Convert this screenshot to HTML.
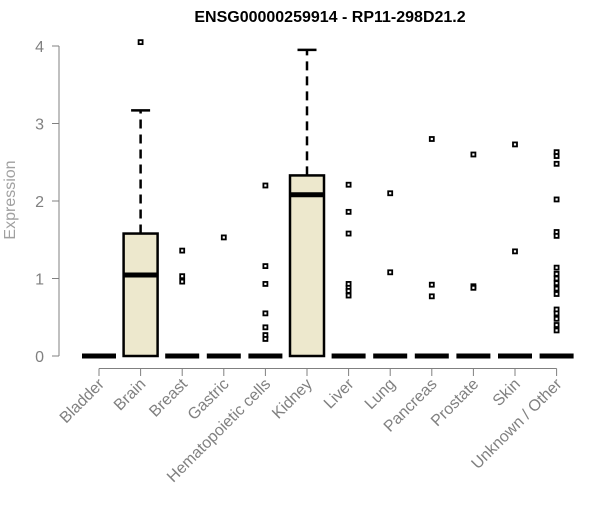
<!DOCTYPE html>
<html><head><meta charset="utf-8"><style>
body{margin:0;background:#fff}
svg{font-family:"Liberation Sans",sans-serif}
</style></head><body>
<svg id="c" width="600" height="500" xmlns="http://www.w3.org/2000/svg">
<text x="330" y="22" text-anchor="middle" font-weight="bold" font-size="16">ENSG00000259914 - RP11-298D21.2</text>
<text transform="translate(15,200) rotate(-90)" text-anchor="middle" font-size="16" fill="#a0a0a0">Expression</text>
<g id="g"></g>
</svg>
<script>
const categories=["Bladder","Brain","Breast","Gastric","Hematopoietic cells","Kidney","Liver","Lung","Pancreas","Prostate","Skin","Unknown / Other"];
const q1=[0,0,0,0,0,0,0,0,0,0,0,0];
const medians=[0,1.045,0,0,0,2.08,0,0,0,0,0,0];
const q3=[0,1.58,0,0,0,2.33,0,0,0,0,0,0];
const whiskHi=[0,3.17,0,0,0,3.95,0,0,0,0,0,0];
const outliers=[[],[4.05],[1.36,1.03,0.96],[1.53],[2.2,1.16,0.93,0.55,0.37,0.27,0.22],[],[2.21,1.86,1.58,0.93,0.88,0.84,0.78],[2.1,1.08],[2.8,0.92,0.77],[2.6,0.9,0.88],[2.73,1.35],[2.63,2.58,2.48,2.02,1.6,1.55,1.14,1.06,1.0,0.94,0.87,0.8,0.6,0.55,0.48,0.4,0.33]];
const yTicks=[0,1,2,3,4];
const NS="http://www.w3.org/2000/svg",g=document.getElementById('g');
const X=i=>99+41.6*i, Y=v=>356-77.5*v;
function mk(t,a){const e=document.createElementNS(NS,t);for(const k in a)e.setAttribute(k,a[k]);g.appendChild(e);return e;}
let e=mk('line',{x1:59,x2:59,y1:Y(0),y2:Y(4),stroke:'#808080'});

yTicks.forEach(v=>{let t=mk('line',{x1:52,x2:59,y1:Y(v),y2:Y(v),stroke:'#808080'});

let l=mk('text',{x:44,y:Y(v)+6,'text-anchor':'end','font-size':16,fill:'#808080'});l.textContent=v;
});
e=mk('line',{x1:X(0),x2:X(11),y1:368.5,y2:368.5,stroke:'#808080'});

categories.forEach((c,i)=>{const x=X(i),w=17;
let t=mk('line',{x1:x,x2:x,y1:368.5,y2:376,stroke:'#808080'});

let l=mk('text',{transform:`translate(${x+6},${385}) rotate(-45)`,'text-anchor':'end','font-size':16,fill:'#808080'});l.textContent=c;

if(whiskHi[i]>q3[i]){
let wl=mk('line',{x1:x,x2:x,y1:Y(q3[i]),y2:Y(whiskHi[i]),stroke:'#000','stroke-width':2.5,'stroke-dasharray':'9,6'});

let cap=mk('line',{x1:x-w/2-1,x2:x+w/2+1,y1:Y(whiskHi[i]),y2:Y(whiskHi[i]),stroke:'#000','stroke-width':2.5});
}
if(q3[i]>q1[i]){
let b=mk('rect',{x:x-w,y:Y(q3[i]),width:2*w,height:Y(q1[i])-Y(q3[i]),fill:'#ede8cd',stroke:'#000','stroke-width':2.5});
}
let m=mk('line',{x1:x-w,x2:x+w,y1:Y(medians[i]),y2:Y(medians[i]),stroke:'#000','stroke-width':5});

outliers[i].forEach(v=>{let o=mk('rect',{x:x-2,y:Y(v)-2,width:4,height:4,fill:'#fff',stroke:'#000','stroke-width':1.8});
});
});
</script>
</body></html>
